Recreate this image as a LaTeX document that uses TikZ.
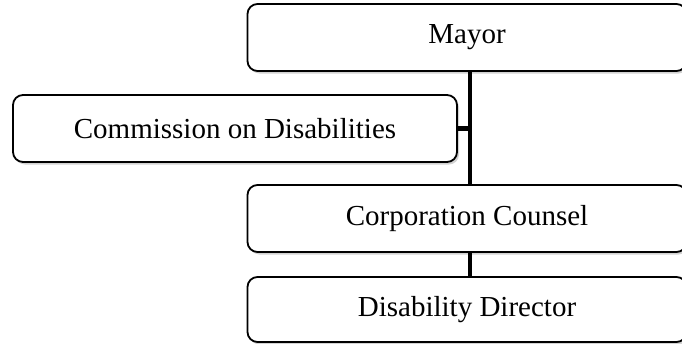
\documentclass[tikz,border=0pt]{standalone}
\usepackage{fontspec}
\setmainfont{Liberation Serif}
\usetikzlibrary{shadows}
\begin{document}
\begin{tikzpicture}[x=1pt,y=-1pt,
  orgbox/.style={draw=black, line width=1.8pt, rounded corners=10pt, fill=white,
    minimum width=439pt, minimum height=67pt, inner sep=0pt,
    font=\fontsize{29}{34}\selectfont,
    drop shadow={shadow xshift=2pt, shadow yshift=-2.5pt, opacity=0.35, fill=gray}},
  link/.style={line width=4.5pt, draw=black}]
\useasboundingbox (0,0) rectangle (682,343);
\clip (0,0) rectangle (682,343);
\fill[white] (0,0) rectangle (682,343);
\node[orgbox] (mayor) at (467,37.5) {Mayor};
\node[orgbox, minimum width=444pt] (comm) at (235,128.5) {Commission on Disabilities};
\node[orgbox] (corp) at (467,218.5) {Corporation Counsel};
\node[orgbox, minimum height=65pt] (dir) at (467,309.5) {Disability Director};
\begin{scope}[on background layer/.style={}]
\end{scope}
\coordinate (spine) at ([xshift=3pt]mayor.south);
\draw[link] (spine) -- (spine |- corp.north);
\draw[link] (comm.east) -- (comm.east -| spine);
\draw[link] ([xshift=3pt]corp.south) -- ([xshift=3pt]dir.north);
\end{tikzpicture}
\end{document}
